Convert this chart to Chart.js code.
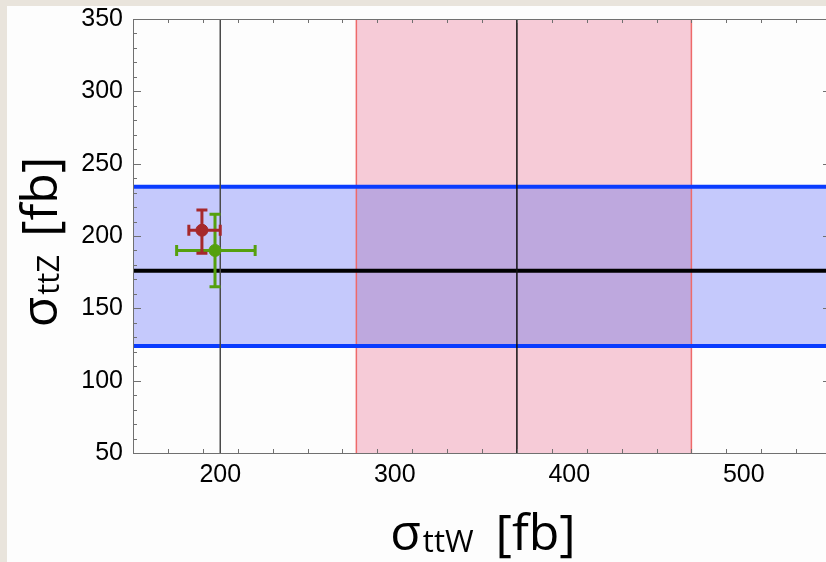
<!DOCTYPE html>
<html>
<head>
<meta charset="utf-8">
<script src="https://cdn.jsdelivr.net/npm/chart.js@4.4.1/dist/chart.umd.min.js"></script>
<style>
  html, body { margin: 0; padding: 0; width: 826px; height: 562px; overflow: hidden; background: #e9e4dc; }
  #wrap { position: absolute; left: 7px; top: 6px; width: 824px; height: 556px; background: #fdfdfd; }
  canvas { display: block; }
</style>
</head>
<body>
<div id="wrap"><canvas id="c" width="824" height="556"></canvas></div>
<script>
// ---- data ----
const xRange = [150, 550];
const yRange = [50, 350];
const xTickLabels = [200, 300, 400, 500];
const yTickLabels = [50, 100, 150, 200, 250, 300, 350];

// ttZ band (blue): lower, central, upper
const ttzBand = [124, 176, 234];
// ttW band (red): lower, central, upper
const ttwBand = [278, 370, 470];
// extra vertical reference line
const refLineX = [200];

// measurement points with x / y error ranges
const redPoint = { x: 189.5, y: 204, xErr: [182, 200], yErr: [188, 218] };
const greenPoint = { x: 197, y: 190, xErr: [175, 220], yErr: [165, 215] };

const RED = '#a6282b';
const GREEN = '#55a00e';

const bandPlugin = {
  id: 'bands',
  beforeDatasetsDraw(chart) {
    const { ctx, chartArea: a, scales: { x, y } } = chart;
    ctx.save();
    ctx.beginPath(); ctx.rect(a.left, a.top, a.right - a.left, a.bottom - a.top); ctx.clip();
    const bx0 = a.left, bx1 = a.right;
    const by0 = y.getPixelForValue(ttzBand[2]), by1 = y.getPixelForValue(ttzBand[0]);
    const rx0 = x.getPixelForValue(ttwBand[0]), rx1 = x.getPixelForValue(ttwBand[2]);
    ctx.fillStyle = '#c5c9fc';
    ctx.fillRect(bx0, by0, bx1 - bx0, by1 - by0);
    ctx.fillStyle = '#f6cbd7';
    ctx.fillRect(rx0, a.top, rx1 - rx0, a.bottom - a.top);
    ctx.fillStyle = '#bea8de';
    ctx.fillRect(rx0, by0, rx1 - rx0, by1 - by0);
    ctx.restore();
  }
};

function drawErr(ctx, x, y, p, color) {
  const cx = x.getPixelForValue(p.x), cy = y.getPixelForValue(p.y);
  const xl = x.getPixelForValue(p.xErr[0]), xh = x.getPixelForValue(p.xErr[1]);
  const yl = y.getPixelForValue(p.yErr[0]), yh = y.getPixelForValue(p.yErr[1]);
  ctx.strokeStyle = color; ctx.lineWidth = 3; ctx.lineCap = 'butt';
  ctx.beginPath();
  ctx.moveTo(xl, cy); ctx.lineTo(xh, cy);
  ctx.moveTo(cx, yl); ctx.lineTo(cx, yh);
  const c = 5.5;
  ctx.moveTo(xl, cy - c); ctx.lineTo(xl, cy + c);
  ctx.moveTo(xh, cy - c); ctx.lineTo(xh, cy + c);
  ctx.moveTo(cx - c, yl); ctx.lineTo(cx + c, yl);
  ctx.moveTo(cx - c, yh); ctx.lineTo(cx + c, yh);
  ctx.stroke();
}

const errPlugin = {
  id: 'errbars',
  afterDatasetsDraw(chart) {
    const { ctx, scales: { x, y } } = chart;
    ctx.save();
    drawErr(ctx, x, y, greenPoint, GREEN);
    drawErr(ctx, x, y, redPoint, RED);
    ctx.restore();
  }
};

const framePlugin = {
  id: 'frame',
  afterDraw(chart) {
    const { ctx, chartArea: a, scales: { x, y } } = chart;
    ctx.save();
    ctx.strokeStyle = '#707070'; ctx.lineWidth = 1;
    ctx.strokeRect(a.left + 0.5, a.top + 0.5, a.right - a.left, a.bottom - a.top);
    ctx.beginPath();
    for (let v = xRange[0]; v <= xRange[1]; v += 20) {
      const px = Math.round(x.getPixelForValue(v)) + 0.5;
      const L = (v % 100 === 0) ? 8 : 4;
      ctx.moveTo(px, a.bottom); ctx.lineTo(px, a.bottom - L);
      ctx.moveTo(px, a.top); ctx.lineTo(px, a.top + L);
    }
    for (let v = yRange[0]; v <= yRange[1]; v += 10) {
      const py = Math.round(y.getPixelForValue(v)) + 0.5;
      const L = (v % 50 === 0) ? 8 : 4;
      ctx.moveTo(a.left, py); ctx.lineTo(a.left + L, py);
      ctx.moveTo(a.right, py); ctx.lineTo(a.right - L, py);
    }
    ctx.stroke();

    // axis titles
    ctx.fillStyle = '#000';
    const big = '50px "Open Sans"', small = '31px "Open Sans"';
    function title(sub, cx, baseY, gap) {
      ctx.font = big; const w1 = ctx.measureText('σ').width;
      ctx.font = small; const w2 = ctx.measureText(sub).width;
      ctx.font = big; const w3 = ctx.measureText('[fb]').width;
      let sx = cx - (w1 + 2 + w2 + gap + w3) / 2;
      ctx.textBaseline = 'alphabetic'; ctx.textAlign = 'left';
      ctx.font = big; ctx.fillText('σ', sx, baseY); sx += w1 + 2;
      ctx.font = small; ctx.fillText(sub, sx, baseY + 2); sx += w2 + gap;
      ctx.font = big; ctx.fillText('[fb]', sx, baseY);
    }
    title('ttW', (a.left + a.right) / 2 + 1, 544, 22);
    ctx.save();
    ctx.translate(50, (a.top + a.bottom) / 2 + 6);
    ctx.rotate(-Math.PI / 2);
    title('ttZ', 0, 0, 18);
    ctx.restore();
    ctx.restore();
  }
};

const hLine = (yv) => [{ x: xRange[0], y: yv }, { x: xRange[1], y: yv }];
const vLine = (xv) => [{ x: xv, y: yRange[0] }, { x: xv, y: yRange[1] }];
const lineDs = (data, color, w, order) => ({ type: 'line', data, borderColor: color, borderWidth: w, pointRadius: 0, fill: false, tension: 0, order });

new Chart(document.getElementById('c'), {
  type: 'scatter',
  data: {
    datasets: [
      { data: [{ x: redPoint.x, y: redPoint.y }], backgroundColor: RED, borderColor: RED, pointRadius: 6, order: 0 },
      { data: [{ x: greenPoint.x, y: greenPoint.y }], backgroundColor: GREEN, borderColor: GREEN, pointRadius: 6, order: 1 },
      lineDs(vLine(refLineX[0]), '#4a4a4a', 1.5, 2),
      lineDs(vLine(ttwBand[1]), '#111', 1.5, 3),
      lineDs(hLine(ttzBand[1]), '#000', 4, 4),
      lineDs(hLine(ttzBand[0]), '#0a3cff', 4, 5),
      lineDs(hLine(ttzBand[2]), '#0a3cff', 4, 6),
      lineDs(vLine(ttwBand[0]), '#ee6a6a', 1.5, 7),
      lineDs(vLine(ttwBand[2]), '#ee6a6a', 1.5, 8)
    ]
  },
  options: {
    responsive: false,
    animation: false,
    events: [],
    layout: { autoPadding: false, padding: { top: 13, right: 0, left: 0, bottom: 0 } },
    plugins: { legend: { display: false }, tooltip: { enabled: false } },
    scales: {
      x: {
        type: 'linear', min: xRange[0], max: xRange[1],
        afterBuildTicks: (s) => { s.ticks = xTickLabels.map(v => ({ value: v })); },
        afterFit: (s) => { s.height = 109; s.paddingLeft = 0; s.paddingRight = 0; },
        grid: { display: false, drawTicks: false },
        border: { display: false },
        ticks: { color: '#000', padding: 7, font: { family: '"Liberation Sans", Arial', size: 25 }, maxRotation: 0 }
      },
      y: {
        type: 'linear', min: yRange[0], max: yRange[1],
        afterBuildTicks: (s) => { s.ticks = yTickLabels.map(v => ({ value: v })); },
        afterFit: (s) => { s.width = 126; s.paddingTop = 0; s.paddingBottom = 0; },
        grid: { display: false, drawTicks: false },
        border: { display: false },
        ticks: { color: '#000', padding: 10, font: { family: '"Liberation Sans", Arial', size: 25 } }
      }
    }
  },
  plugins: [bandPlugin, errPlugin, framePlugin]
});
</script>
</body>
</html>
